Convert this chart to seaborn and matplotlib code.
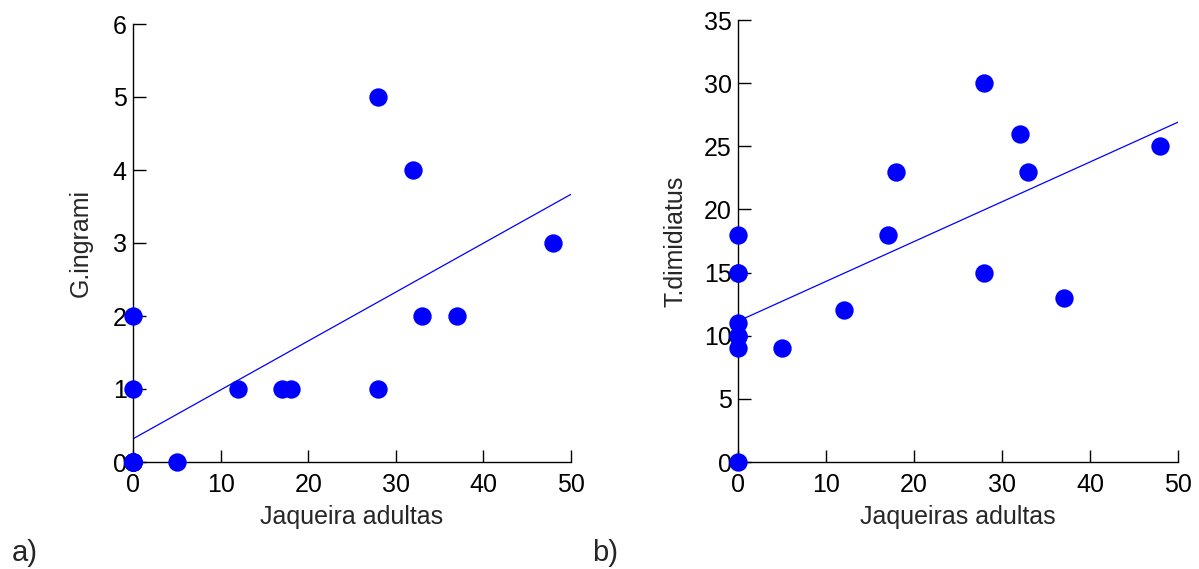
import numpy as np
import pandas as pd
import matplotlib
matplotlib.use("Agg")
import matplotlib.pyplot as plt
import seaborn as sns

# dados (18 locais)
jaqueiras = [0, 0, 0, 0, 0, 0, 0, 0, 5, 12, 17, 18, 28, 28, 32, 33, 37, 48]
g_ingrami = [0, 0, 0, 0, 0, 0, 1, 2, 0, 1, 1, 1, 5, 1, 4, 2, 2, 3]
t_dimidiatus = [0, 9, 10, 10, 11, 15, 15, 18, 9, 12, 18, 23, 30, 15, 26, 23, 13, 25]

x_ticks = [0, 10, 20, 30, 40, 50]
ya_ticks = [0, 1, 2, 3, 4, 5, 6]
yb_ticks = [0, 5, 10, 15, 20, 25, 30, 35]

df = pd.DataFrame({"jaq": jaqueiras, "gi": g_ingrami, "td": t_dimidiatus})

sns.set_style("ticks")
plt.rcParams["font.family"] = ["Liberation Sans", "DejaVu Sans"]
FS = 18
AZUL = "#0000ff"

fig = plt.figure(figsize=(11.99, 5.69), dpi=100)
W, H = 1199, 569
ax_a = fig.add_axes([133 / W, 1 - 462 / H, 438 / W, 438 / H])
ax_b = fig.add_axes([738 / W, 1 - 462 / H, 440 / W, 442 / H])


def painel(ax, ycol, ylim, yticks, xlabel, ylabel, ylab_x):
    ax.set_xlim(0, 50)
    ax.set_ylim(*ylim)
    # reta de regressao ate o limite do eixo
    sns.regplot(data=df, x="jaq", y=ycol, ax=ax, ci=None, truncate=False,
                scatter=False, line_kws={"color": AZUL, "lw": 0.9})
    sns.scatterplot(data=df, x="jaq", y=ycol, ax=ax, color=AZUL, s=175,
                    linewidth=0, clip_on=False, zorder=5)
    ax.set_xticks(x_ticks)
    ax.set_yticks(yticks)
    ax.set_xlim(0, 50)
    ax.set_ylim(*ylim)
    sns.despine(ax=ax)
    for s in ["left", "bottom"]:
        ax.spines[s].set_linewidth(1.0)
        ax.spines[s].set_color("black")
    ax.tick_params(direction="in", length=9, width=1.0, labelsize=FS,
                   colors="black")
    ax.tick_params(axis="x", pad=8)
    ax.tick_params(axis="y", pad=4.5)
    ax.set_xlabel(xlabel, fontsize=FS, labelpad=6)
    ax.set_ylabel(ylabel, fontsize=FS)
    ax.yaxis.set_label_coords(ylab_x, 0.5)


painel(ax_a, "gi", (0, 6), ya_ticks, "Jaqueira adultas", "G.ingrami", -0.092)
painel(ax_b, "td", (0, 35), yb_ticks, "Jaqueiras adultas", "T.dimidiatus", -0.114)

fig.text(12 / W, 1 - 553 / H, "a)", fontsize=21, va="center")
fig.text(592 / W, 1 - 553 / H, "b)", fontsize=21, va="center")

fig.savefig("out.png", dpi=100)
